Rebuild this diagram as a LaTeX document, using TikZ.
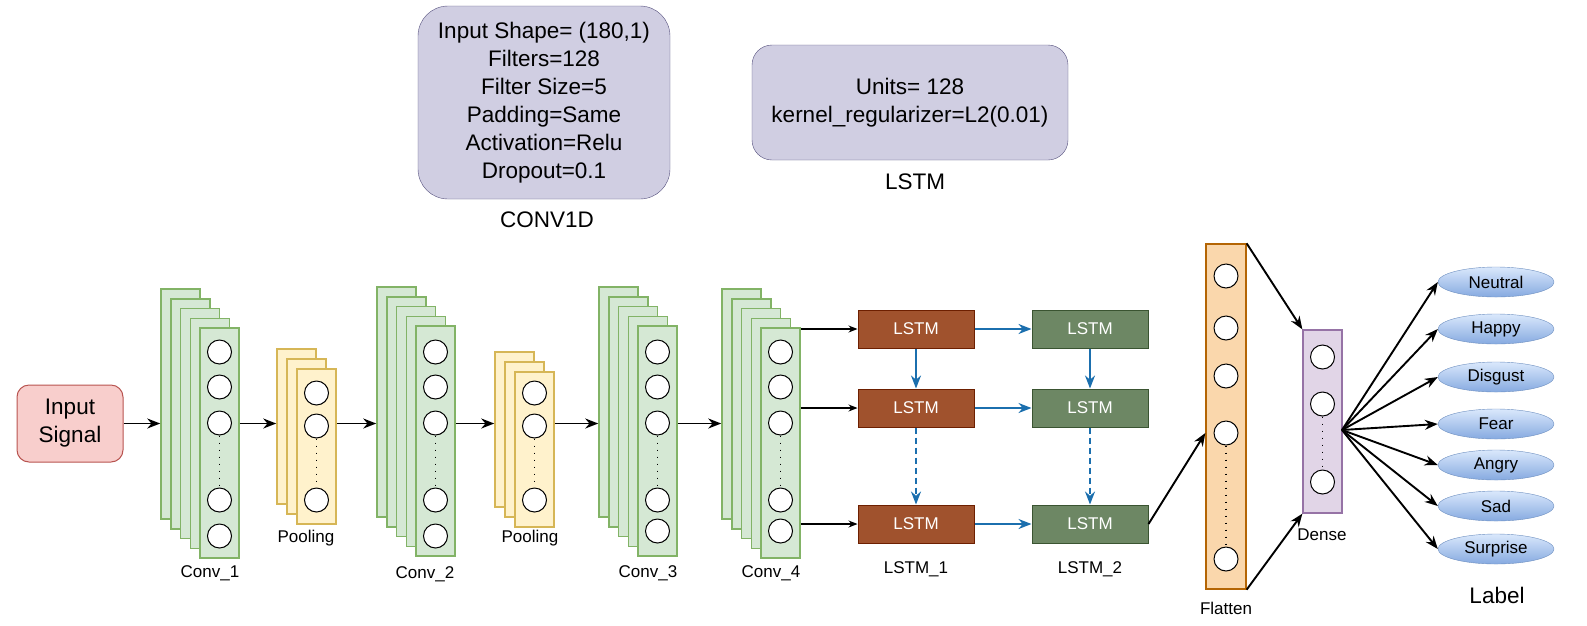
\documentclass[tikz,border=0pt]{standalone}
\usepackage{fontspec}
\setmainfont{Liberation Sans}
\usepackage{tikz}
\usetikzlibrary{arrows.meta,shapes.geometric}
\definecolor{convfill}{HTML}{D5E8D4}
\definecolor{convline}{HTML}{82B366}
\definecolor{poolfill}{HTML}{FFF2CC}
\definecolor{poolline}{HTML}{D6B656}
\definecolor{infill}{HTML}{F8CECC}
\definecolor{inline}{HTML}{B85450}
\definecolor{cfgfill}{HTML}{D0CEE2}
\definecolor{cfgline}{HTML}{56517E}
\definecolor{cellAfill}{HTML}{A0522D}
\definecolor{cellAline}{HTML}{6D1F00}
\definecolor{cellBfill}{HTML}{6D8764}
\definecolor{cellBline}{HTML}{3A5431}
\definecolor{rnnblue}{HTML}{1B6FAE}
\definecolor{flatfill}{HTML}{FAD7AC}
\definecolor{flatline}{HTML}{B46504}
\definecolor{densefill}{HTML}{E1D5E7}
\definecolor{denseline}{HTML}{9673A6}
\definecolor{emotop}{HTML}{DAE8FC}
\definecolor{emobot}{HTML}{86AAE0}
\definecolor{emoline}{HTML}{6C8EBF}

\begin{document}
\begin{tikzpicture}[x=1pt,y=-1pt]
\tikzstyle{convbox}=[draw=convline,fill=convfill,line width=1.5pt,minimum width=39pt,minimum height=230pt,inner sep=0pt]
\tikzstyle{poolbox}=[draw=poolline,fill=poolfill,line width=1.5pt,minimum width=39pt,minimum height=155pt,inner sep=0pt]
\tikzstyle{unit}=[circle,draw=black,fill=white,line width=1pt,minimum size=24pt,inner sep=0pt]
\tikzstyle{gap}=[line width=1.6pt,dash pattern=on 1.6pt off 5.4pt]
\tikzstyle{cellA}=[draw=cellAline,fill=cellAfill,text=white,line width=1pt,minimum width=116pt,minimum height=38pt,font=\fontsize{17}{20}\selectfont]
\tikzstyle{cellB}=[draw=cellBline,fill=cellBfill,text=white,line width=1pt,minimum width=116pt,minimum height=38pt,font=\fontsize{17}{20}\selectfont]
\tikzstyle{emo}=[ellipse,draw=emoline,top color=emotop,bottom color=emobot,minimum width=116pt,minimum height=30pt,inner sep=0pt,font=\fontsize{17}{20}\selectfont]
\tikzstyle{lbl}=[font=\fontsize{17}{20}\selectfont]
\tikzstyle{big}=[font=\fontsize{22.5}{28}\selectfont,align=center]
\tikzstyle{flow}=[-{Stealth[length=13pt,width=10pt]},line width=1.9pt]
\tikzstyle{feed}=[-{Stealth[length=9pt,width=7pt]},line width=1.1pt]
\tikzstyle{rnn}=[draw=rnnblue,-{Stealth[length=13pt,width=10pt]},line width=1.9pt]
\useasboundingbox (0,0) rectangle (1587,625);
\node[draw=cfgline,fill=cfgfill,rounded corners=30pt,minimum width=252pt,minimum height=193pt,big] (cfgconv) at (544,102.5) {Input Shape= (180,1)\\Filters=128\\Filter Size=5\\Padding=Same\\Activation=Relu\\Dropout=0.1};
\node[draw=cfgline,fill=cfgfill,rounded corners=20pt,minimum width=316pt,minimum height=115pt,big] (cfglstm) at (910,102.5) {Units= 128\\kernel\_regularizer=L2(0.01)};
\node[big] at (547,220) {CONV1D};
\node[big] at (915,182) {LSTM};
\node[draw=inline,fill=infill,rounded corners=12pt,line width=1pt,minimum width=106pt,minimum height=77pt,big] (in) at (70,423.5) {Input\\Signal};
\foreach \name/\x/\y/\last in {c1/161/289/536, c2/377/287/536, c3/599/287/531, c4/722/289/531} {
	\foreach \k in {0,...,3}
		\node[convbox] (\name b\k) at ({\x+19.5+9.75*\k},{\y+115+9.75*\k}) {};
	\node[convbox] (\name) at ({\x+58.5},{\y+154}) {};
	\foreach \i/\cy in {1/352,2/387,3/423,4/500,5/\last}
		\node[unit] (\name-\i) at ({\x+58.5},\cy) {};
	\draw[gap] (\name-3.south) -- (\name-4.north);
}
\foreach \name/\x/\y in {p1/277/349, p2/495/352} {
	\foreach \k in {0,1}
		\node[poolbox] (\name b\k) at ({\x+19.5+10*\k},{\y+77.5+10*\k}) {};
	\node[poolbox] (\name) at ({\x+39.5},{\y+97.5}) {};
	\foreach \i/\cy in {1/393,2/426,3/500}
		\node[unit] (\name-\i) at ({\x+39.5},\cy) {};
	\draw[gap] (\name-2.south) -- (\name-3.north);
}
\node[lbl] at (210,573) {Conv\_1};
\node[lbl] at (425,574) {Conv\_2};
\node[lbl] at (648,573) {Conv\_3};
\node[lbl] at (771,573) {Conv\_4};
\node[lbl] at (306,538) {Pooling};
\node[lbl] at (530,538) {Pooling};
\draw[flow] (in.east) -- (in.east -| c1b0.west);
\draw[flow] (c1.east |- in.east) -- (p1b0.west |- in.east);
\draw[flow] (p1.east |- in.east) -- (c2b0.west |- in.east);
\draw[flow] (c2.east |- in.east) -- (p2b0.west |- in.east);
\draw[flow] (p2.east |- in.east) -- (c3b0.west |- in.east);
\draw[flow] (c3.east |- in.east) -- (c4b0.west |- in.east);
\foreach \name/\point in {a1/{916,329}, a2/{916,408}, a3/{916,524}}
	\node[cellA] (\name) at (\point) {LSTM};
\foreach \name/\point in {b1/{1090,329}, b2/{1090,408}, b3/{1090,524}}
	\node[cellB] (\name) at (\point) {LSTM};
\node[lbl] at (916,569) {LSTM\_1};
\node[lbl] at (1090,569) {LSTM\_2};
\draw[feed] (c4.east |- a1.west) -- (a1.west);
\draw[feed] (c4.east |- a2.west) -- (a2.west);
\draw[feed] (c4.east |- a3.west) -- (a3.west);
\draw[rnn] (a1) -- (b1);
\draw[rnn] (a2) -- (b2);
\draw[rnn] (a3) -- (b3);
\draw[rnn] (a1) -- (a2);
\draw[rnn] (b1) -- (b2);
\draw[rnn,dash pattern=on 6pt off 4pt] (a2) -- (a3);
\draw[rnn,dash pattern=on 6pt off 4pt] (b2) -- (b3);
\node[draw=flatline,fill=flatfill,line width=1.3pt,minimum width=40pt,minimum height=345pt] (fl) at (1226,416.5) {};
\foreach \i/\cy in {1/276,2/328,3/376,4/433,5/559}
	\node[unit] (f\i) at (1226,\cy) {};
\draw[gap] (f4.south) -- (f5.north);
\node[draw=denseline,fill=densefill,line width=1.3pt,minimum width=39pt,minimum height=183pt] (de) at (1322.5,421.5) {};
\foreach \i/\cy in {1/357,2/404,3/482}
	\node[unit] (d\i) at (1322.5,\cy) {};
\draw[gap] (d2.south) -- (d3.north);
\node[lbl] at (1226,608) {Flatten};
\node[lbl] at (1322,535) {Dense};
\draw[flow] (b3.east) -- (fl.west |- f4);
\draw[flow] (fl.north east) -- (de.north west);
\draw[flow] (fl.south east) -- (de.south west);
\coordinate (hub) at (1342,430);
\foreach \name/\y/\txt in {e1/282/Neutral, e2/329/Happy, e3/377/Disgust, e4/424/Fear, e5/465/Angry, e6/506/Sad, e7/549/Surprise} {
	\node[emo] (\name) at (1496,\y) {\txt};
	\draw[flow] (hub) -- (\name.west);
}
\node[big] at (1497,595) {Label};
\end{tikzpicture}
\end{document}
